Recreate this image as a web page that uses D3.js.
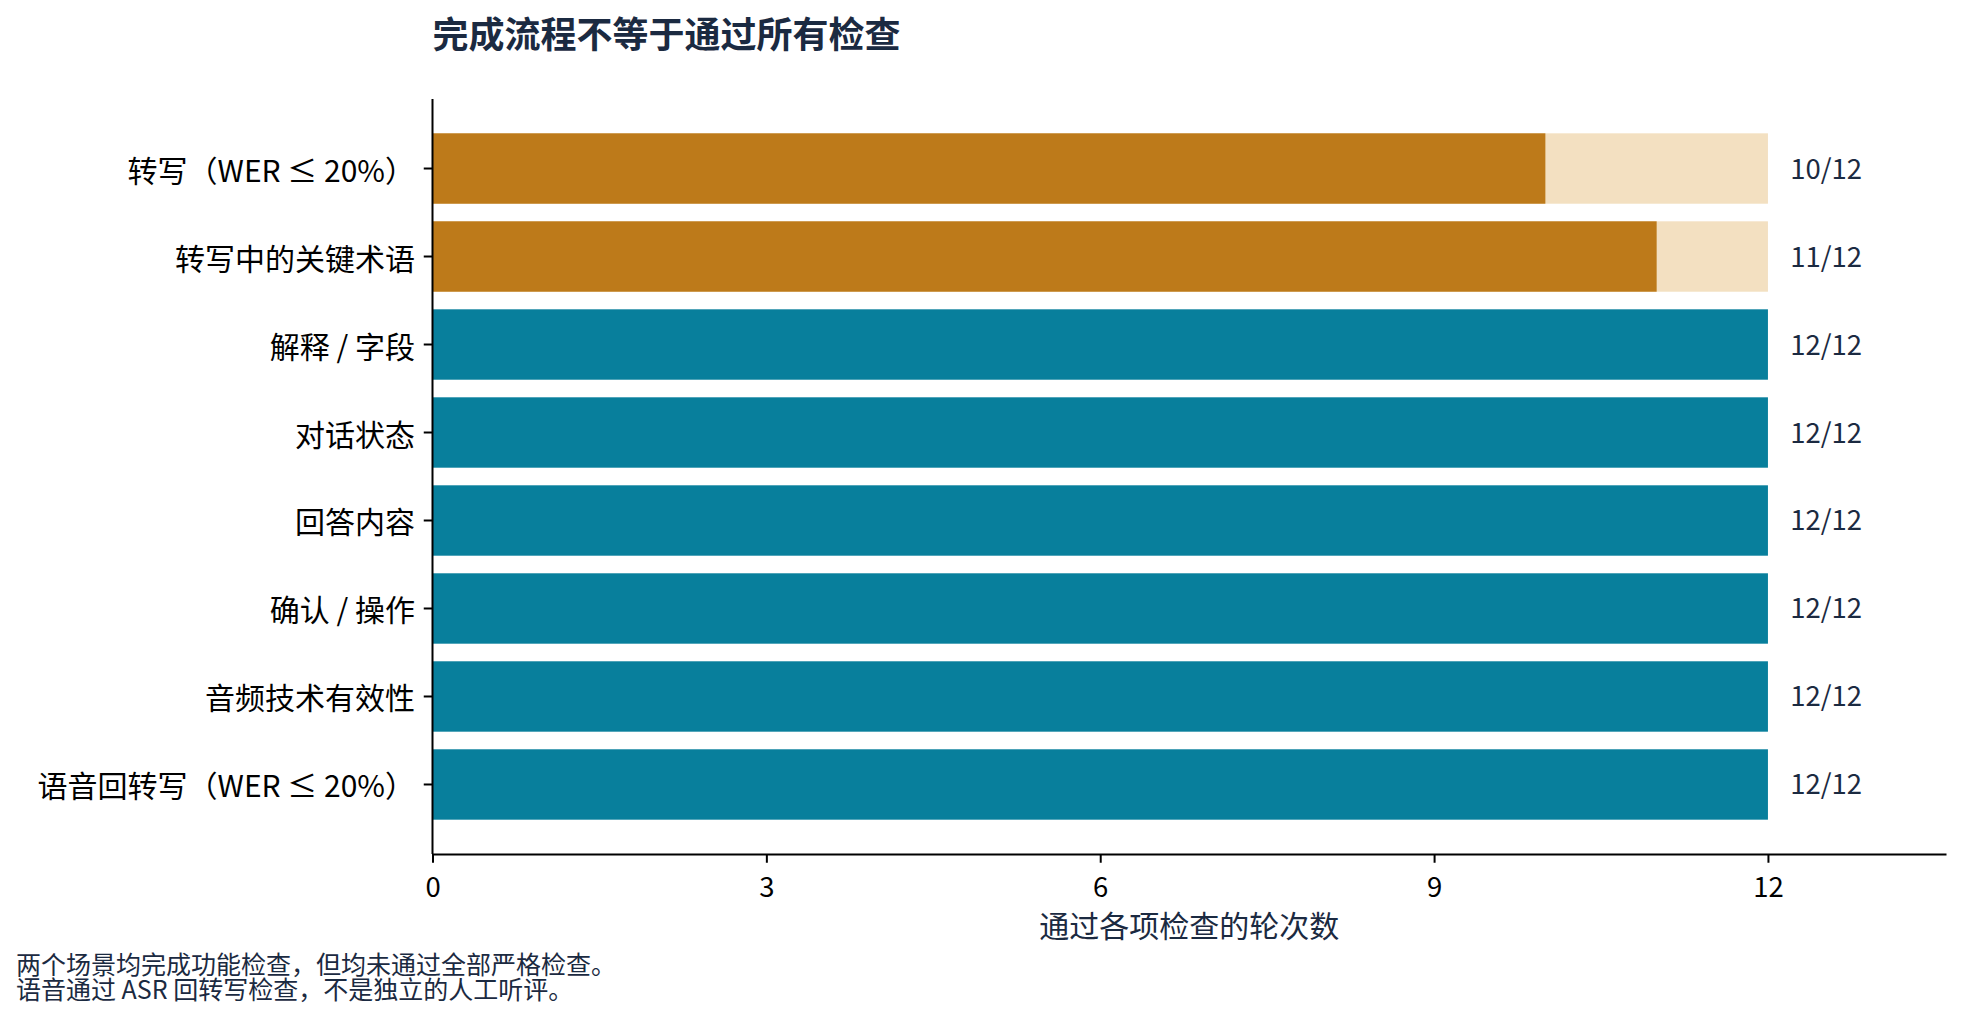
<!DOCTYPE html>
<html>
<head>
<meta charset="utf-8">
<script src="https://cdn.jsdelivr.net/npm/d3@7"></script>
<style>
  html, body { margin: 0; padding: 0; background: #fff; }
  svg { display: block; }
  text { font-family: "Noto Sans CJK SC", "Noto Sans", sans-serif; }
</style>
</head>
<body>
<svg width="1963" height="1020"></svg>
<script>
// checks, top to bottom
const checks = [
  "转写（WER ≤ 20%）",
  "转写中的关键术语",
  "解释 / 字段",
  "对话状态",
  "回答内容",
  "确认 / 操作",
  "音频技术有效性",
  "语音回转写（WER ≤ 20%）"
];
const passed = [10, 11, 12, 12, 12, 12, 12, 12];
const rounds = [12, 12, 12, 12, 12, 12, 12, 12];
const xTicks = [0, 3, 6, 9, 12];

const title = "完成流程不等于通过所有检查";
const xLabel = "通过各项检查的轮次数";
const notes = [
  "两个场景均完成功能检查，但均未通过全部严格检查。",
  "语音通过 ASR 回转写检查，不是独立的人工听评。"
];

const navy = "#1b2a41",
  teal = "#087f9c",
  amber = "#bd7a1a",
  amberLight = "#f3e0c1";

const svg = d3.select("svg"),
  margin = { top: 99, right: 17, bottom: 166, left: 432.5 },
  width = 1963 - margin.left - margin.right,
  height = 1020 - margin.top - margin.bottom;

const data = checks.map((c, i) => ({ check: c, passed: passed[i], total: rounds[i] }));

const x = d3.scaleLinear().domain([0, 13.6]).range([0, width]);
const y = d3.scaleBand()
  .domain(checks)
  .range([0, height])
  .paddingInner(0.2)
  .paddingOuter(0.39);

const g = svg.append("g")
  .attr("transform", "translate(" + margin.left + "," + margin.top + ")");

// light track for rows that missed some rounds
g.selectAll(".track")
  .data(data.filter(d => d.passed < d.total))
  .enter().append("rect")
  .attr("class", "track")
  .attr("x", x(0))
  .attr("y", d => y(d.check))
  .attr("width", d => x(d.total) - x(0))
  .attr("height", y.bandwidth())
  .attr("fill", amberLight);

g.selectAll(".bar")
  .data(data)
  .enter().append("rect")
  .attr("class", "bar")
  .attr("x", x(0))
  .attr("y", d => y(d.check))
  .attr("width", d => x(d.passed) - x(0))
  .attr("height", y.bandwidth())
  .attr("fill", d => d.passed < d.total ? amber : teal);

g.selectAll(".value")
  .data(data)
  .enter().append("text")
  .attr("class", "value")
  .attr("x", d => x(d.total + 0.2))
  .attr("y", d => y(d.check) + y.bandwidth() / 2 - 2)
  .attr("dominant-baseline", "central")
  .attr("font-size", 27.5)
  .attr("fill", navy)
  .text(d => d.passed + "/" + d.total);

// axes
const xAxis = g.append("g")
  .attr("transform", "translate(0," + height + ")")
  .call(d3.axisBottom(x).tickValues(xTicks).tickSize(8.75).tickPadding(14.5).tickSizeOuter(0));
xAxis.select(".domain").attr("stroke-width", 2).attr("stroke", "#000");
xAxis.selectAll(".tick line").attr("stroke-width", 2).attr("stroke", "#000");
xAxis.selectAll(".tick text")
  .attr("font-family", "DejaVu Sans")
  .attr("font-size", 27.5)
  .attr("fill", "#000");

const yAxis = g.append("g")
  .call(d3.axisLeft(y).tickSize(8.75).tickPadding(8.75).tickSizeOuter(0));
yAxis.select(".domain").attr("stroke-width", 2).attr("stroke", "#000")
  .attr("d", "M0,0V" + height);
yAxis.selectAll(".tick line").attr("stroke-width", 2).attr("stroke", "#000");
yAxis.selectAll(".tick text")
  .attr("font-family", "Noto Sans CJK SC")
  .attr("font-size", 30)
  .attr("fill", "#000")
  .attr("dy", null)
  .attr("dominant-baseline", "central")
  .each(function(d) {
    // the ≤ sign with a flat bar, as in the original
    const parts = d.split("≤");
    if (parts.length < 2) return;
    const t = d3.select(this).text(null);
    t.append("tspan").text(parts[0]);
    t.append("tspan").attr("font-family", "Noto Sans CJK JP").text("≤");
    t.append("tspan").text(parts[1]);
  });

g.append("text")
  .attr("x", width / 2)
  .attr("y", height + 83)
  .attr("text-anchor", "middle")
  .attr("font-size", 30)
  .attr("fill", navy)
  .text(xLabel);

svg.append("text")
  .attr("x", margin.left)
  .attr("y", 48)
  .attr("font-size", 36)
  .attr("font-weight", "bold")
  .attr("fill", navy)
  .text(title);

svg.selectAll(".note")
  .data(notes)
  .enter().append("text")
  .attr("class", "note")
  .attr("x", 16)
  .attr("y", (d, i) => 973.5 + i * 25.5)
  .attr("font-size", 25)
  .attr("fill", navy)
  .text(d => d);
</script>
</body>
</html>
